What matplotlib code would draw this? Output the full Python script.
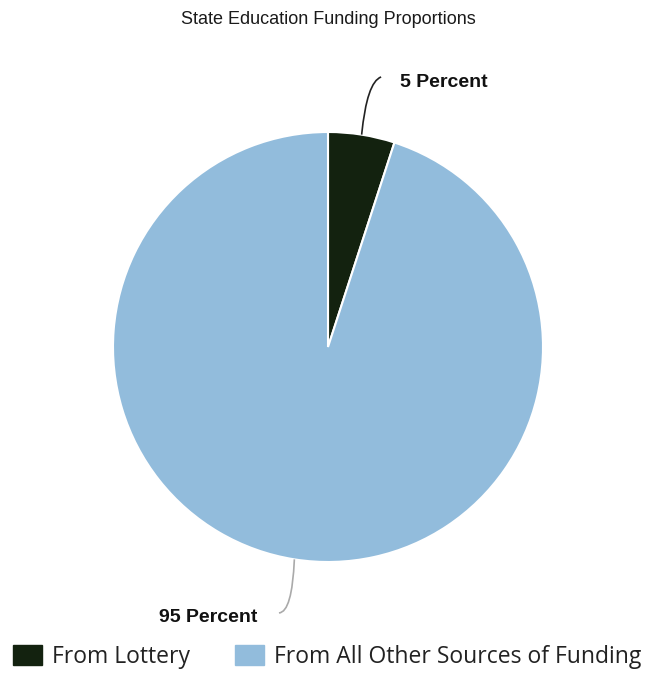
import matplotlib
matplotlib.use("Agg")
import matplotlib.pyplot as plt
from matplotlib.patches import Patch, PathPatch
from matplotlib.path import Path
import numpy as np

categories = ["From Lottery", "From All Other Sources of Funding"]
values = [5, 95]
labels = ["5 Percent", "95 Percent"]
colors = ["#13220f", "#92bcdc"]

fig = plt.figure(figsize=(6.45, 6.98), dpi=100)
fig.patch.set_facecolor("white")
ax = fig.add_axes([113/645, (698-562)/698, 430/645, 430/698])
wedges, _ = ax.pie(values, colors=colors, startangle=90, counterclock=False,
                   radius=1, wedgeprops=dict(edgecolor="white", linewidth=1.5))
ax.set_xlim(-1, 1)
ax.set_ylim(-1, 1)
ax.set_aspect("auto")
ax.axis("off")

# label placement (offsets from wedge edge midpoints)
label_cfg = [
    dict(ctrl=(0.181, 1.233), end=(0.247, 1.256), txt=(0.335, 1.228), ha="left", col="#222222"),
    dict(ctrl=(-0.167, -1.233), end=(-0.228, -1.237), txt=(-0.33, -1.26), ha="right", col="#aaaaaa"),
]
for w, lab, cfg in zip(wedges, labels, label_cfg):
    ang = np.deg2rad((w.theta1 + w.theta2) / 2)
    x, y = np.cos(ang), np.sin(ang)
    path = Path([(x, y), cfg["ctrl"], cfg["end"]], [Path.MOVETO, Path.CURVE3, Path.CURVE3])
    ax.add_patch(PathPatch(path, facecolor="none", edgecolor=cfg["col"], lw=1.2, clip_on=False))
    ax.text(cfg["txt"][0], cfg["txt"][1], lab, ha=cfg["ha"], va="center", fontsize=14,
            fontweight="bold", family="Liberation Sans", color="#111111", clip_on=False)

fig.text(328/645, 1 - 19/698, "State Education Funding Proportions", ha="center", va="center",
         fontsize=13, family="Liberation Sans", color="#1a1a1a")

handles = [Patch(facecolor=c, edgecolor=c) for c in colors]
fig.legend(handles, categories, loc="center", bbox_to_anchor=(327.5/645, 1 - 657/698), ncol=2,
           frameon=False, prop=dict(family="Open Sans", size=16.5), handlelength=1.25,
           handleheight=1.0, handletextpad=0.45, columnspacing=1.96, labelcolor="#222222",
           borderpad=0, borderaxespad=0)

fig.savefig("out.png", dpi=100, facecolor="white")
